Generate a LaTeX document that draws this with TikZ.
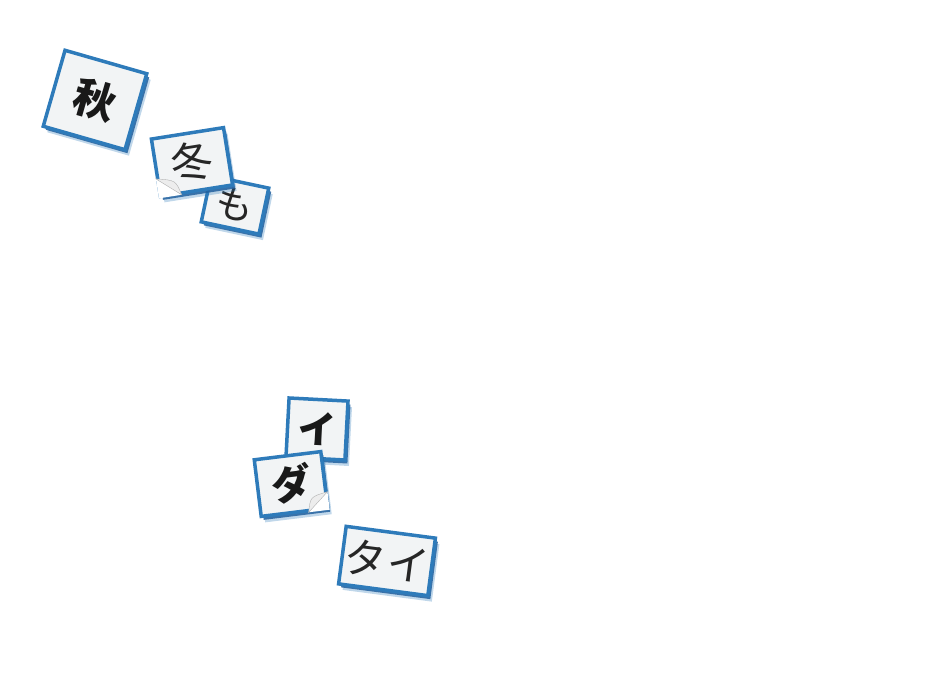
\documentclass[tikz,border=0pt]{standalone}
\usepackage{fontspec}
\newfontfamily\jpfont{Noto Sans CJK JP}
\usetikzlibrary{shadows,calc}
\definecolor{tileblue}{HTML}{2E7BBA}
\definecolor{shadeblue}{HTML}{22609E}
\definecolor{paper}{HTML}{F2F4F5}

\begin{document}
\begin{tikzpicture}[x=1pt,y=-1pt]
\tikzset{tile/.style=
            {draw=tileblue,line width=3.5pt,fill=paper,inner sep=0pt,
             drop shadow={shadow xshift=4pt,shadow yshift=-6pt,fill=tileblue,opacity=.3},
             drop shadow={shadow xshift=2.5pt,shadow yshift=-3.5pt,fill=shadeblue,opacity=.85}},
         thin glyph/.style=
            {font=\jpfont\fontsize{42}{42}\selectfont,text=black!85},
         bold glyph/.style=
            {font=\jpfont\bfseries\fontsize{42}{42}\selectfont,text=black!90},
         flap/.style=
            {fill=black!7,draw=black!30,line width=.4pt}}
\useasboundingbox (0,0) rectangle (932,684);

\node[tile,bold glyph,minimum width=85pt,minimum height=79pt,rotate=-16] (aki) at (95,100) {秋};
\node[tile,thin glyph,font=\jpfont\fontsize{38}{38}\selectfont,minimum width=59pt,minimum height=47pt,rotate=-12] (mo) at (235,205) {も};
\node[tile,thin glyph,minimum width=73pt,minimum height=58pt,rotate=9] (fuyu) at (192,162) {冬};
\coordinate (fuyu a) at ($(fuyu.south west)!.32!(fuyu.north west)$);
\coordinate (fuyu b) at ($(fuyu.south west)!.3!(fuyu.south east)$);
\fill[white] (fuyu a) -- (fuyu.south west) -- (fuyu b) -- cycle;
\filldraw[flap] (fuyu a) .. controls ($(fuyu.south west)!.5!(fuyu.center)$) .. (fuyu b) -- cycle;

\node[tile,bold glyph,font=\jpfont\bfseries\fontsize{38}{38}\selectfont,minimum width=59pt,minimum height=59pt,rotate=-3] (i) at (317,429) {イ};
\node[tile,bold glyph,font=\jpfont\bfseries\fontsize{40}{40}\selectfont,minimum width=67pt,minimum height=57pt,rotate=7] (da) at (291,484) {ダ};
\coordinate (da a) at ($(da.south east)!.3!(da.north east)$);
\coordinate (da b) at ($(da.south east)!.3!(da.south west)$);
\fill[white] (da a) -- (da.south east) -- (da b) -- cycle;
\filldraw[flap] (da a) .. controls ($(da.south east)!.5!(da.center)$) .. (da b) -- cycle;

\node[tile,thin glyph,minimum width=90pt,minimum height=58pt,rotate=-7.5] (tai) at (387,561) {タ\kern1ptイ};
\end{tikzpicture}
\end{document}
